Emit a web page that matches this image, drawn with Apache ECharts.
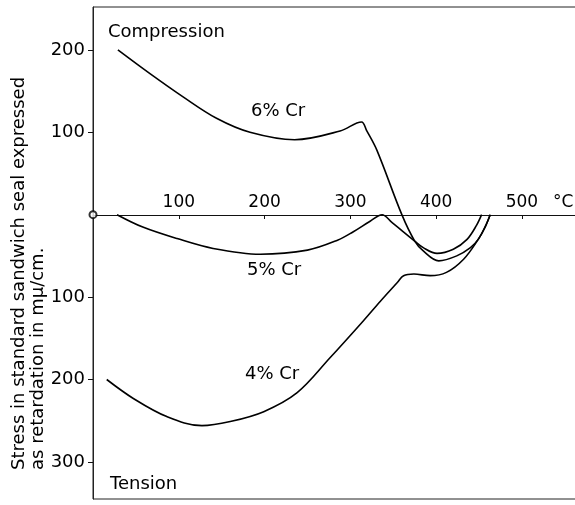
<!DOCTYPE html>
<html>
<head>
<meta charset="utf-8">
<script src="https://cdn.jsdelivr.net/npm/echarts@6/dist/echarts.min.js"></script>
<style>
  html, body { margin: 0; padding: 0; background: #fff; }
  #main { width: 575px; height: 505px; }
</style>
</head>
<body>
<div id="main"></div>
<script>
// temperature (deg C) and stress (compression +, tension -)
var cr6_temp = [29, 66, 105, 144, 183, 235, 288, 313, 319, 331, 360, 375, 385, 403, 424, 440, 449, 457, 463]
var cr6_val  = [200, 171.5, 143, 117, 100, 91, 101.6, 112.5, 102, 78, 0, -32, -44, -56, -50, -40, -30, -15, 0]

var cr5_temp = [28, 58, 98, 140, 195, 250, 285, 303, 323, 337, 348, 375, 385, 401, 420, 436, 447, 453]
var cr5_val  = [0, -15, -29, -41, -48, -43, -31, -21, -8, 0, -9, -32, -40, -47, -42, -30, -13, 0]

var cr4_temp = [16, 47, 86, 127, 160, 199, 238, 276, 315, 335, 355, 362, 374, 393, 412, 432, 449, 457, 463]
var cr4_val  = [-200, -223, -245, -256, -251, -239, -216, -174, -129, -105, -82, -74, -72, -74, -70, -54, -30, -15, 0]

var xTicks = [100, 200, 300, 400, 500]
var yTicks = [-300, -200, -100, 100, 200]

function pairs(t, v) {
  var out = []
  for (var i = 0; i < t.length; i++) out.push([t[i], v[i]])
  return out
}

var FONT = '"DejaVu Sans", sans-serif'
var myChart = echarts.init(document.getElementById('main'))

function curve(name, t, v) {
  return {
    name: name,
    type: 'line',
    data: pairs(t, v),
    smooth: 0.35,
    showSymbol: false,
    lineStyle: { color: '#000', width: 1.6 },
    z: 3
  }
}

// grid: top 7, height 492, y from -345 to 252 -> zero sits ~284px above the bottom edge
var option = {
  backgroundColor: '#fff',
  animation: false,
  grid: {
    left: 93, right: -1, top: 7, bottom: 6,
    show: true, borderColor: '#222', borderWidth: 1,
    outerBoundsMode: 'none'
  },
  xAxis: {
    type: 'value',
    min: 0, max: 563,
    offset: -284,
    axisLine: { onZero: false, lineStyle: { color: '#111', width: 1 } },
    axisTick: { customValues: xTicks, length: 4, lineStyle: { color: '#111' } },
    axisLabel: {
      customValues: xTicks, inside: true, margin: 4,
      color: '#000', fontSize: 17, fontFamily: FONT
    },
    splitLine: { show: false }
  },
  yAxis: {
    type: 'value',
    min: -345, max: 252,
    axisLine: { show: true, onZero: false, lineStyle: { color: '#222', width: 1 } },
    axisTick: { customValues: yTicks, length: 5, lineStyle: { color: '#111' } },
    axisLabel: {
      customValues: yTicks, margin: 8,
      color: '#000', fontSize: 18, fontFamily: FONT,
      formatter: function (v) { return String(Math.abs(v)) }
    },
    splitLine: { show: false }
  },
  series: [
    curve('6% Cr', cr6_temp, cr6_val),
    curve('5% Cr', cr5_temp, cr5_val),
    curve('4% Cr', cr4_temp, cr4_val),
    {
      type: 'scatter',
      data: [[0, 0]],
      symbol: 'emptyCircle',
      symbolSize: 7,
      itemStyle: { color: '#000', borderWidth: 1.2 },
      z: 5
    }
  ],
  graphic: [
    { type: 'text', x: 108, y: 32, style: { text: 'Compression', font: '18px ' + FONT, fill: '#000', textAlign: 'left', textVerticalAlign: 'middle' } },
    { type: 'text', x: 110, y: 484, style: { text: 'Tension', font: '18px ' + FONT, fill: '#000', textAlign: 'left', textVerticalAlign: 'middle' } },
    { type: 'text', x: 251, y: 111, style: { text: '6% Cr', font: '18px ' + FONT, fill: '#000', textAlign: 'left', textVerticalAlign: 'middle' } },
    { type: 'text', x: 247, y: 270, style: { text: '5% Cr', font: '18px ' + FONT, fill: '#000', textAlign: 'left', textVerticalAlign: 'middle' } },
    { type: 'text', x: 245, y: 374, style: { text: '4% Cr', font: '18px ' + FONT, fill: '#000', textAlign: 'left', textVerticalAlign: 'middle' } },
    { type: 'text', x: 553, y: 203, style: { text: '°C', font: '17px ' + FONT, fill: '#000', textAlign: 'left', textVerticalAlign: 'middle' } },
    { type: 'text', x: 19, y: 470, rotation: Math.PI / 2, style: { text: 'Stress in standard sandwich seal expressed', font: '18px ' + FONT, fill: '#000', textAlign: 'left', textVerticalAlign: 'middle' } },
    { type: 'text', x: 38, y: 470, rotation: Math.PI / 2, style: { text: 'as retardation in m\u03bc/cm.', font: '18px ' + FONT, fill: '#000', textAlign: 'left', textVerticalAlign: 'middle' } }
  ]
}

myChart.setOption(option)
</script>
</body>
</html>
